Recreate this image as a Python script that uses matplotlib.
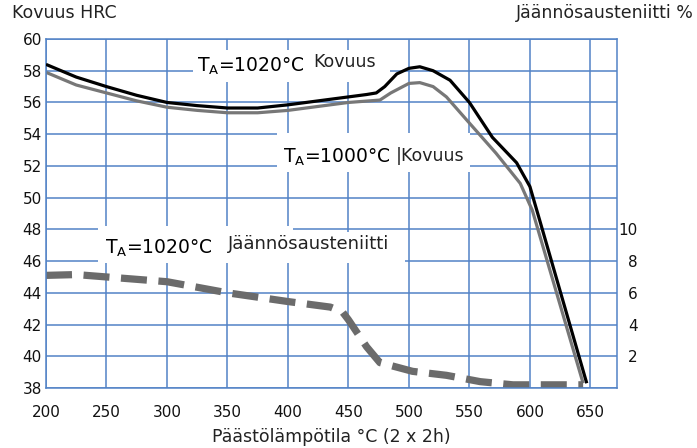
import numpy as np
import matplotlib
matplotlib.use("Agg")
import matplotlib.pyplot as plt
from matplotlib.patches import Rectangle

plt.rcParams['font.family'] = ['DejaVu Sans']

# hardness, T_A = 1020 C
t_1020 = [200, 225, 250, 275, 300, 325, 350, 375, 400, 425, 450, 465, 473, 480, 490, 500, 509, 520, 534, 550, 569, 589, 600, 608, 647]
hrc_1020 = [58.4, 57.6, 57.0, 56.45, 56.0, 55.8, 55.65, 55.65, 55.85, 56.1, 56.35, 56.5, 56.6, 57.0, 57.8, 58.15, 58.25, 58.0, 57.4, 56.0, 53.8, 52.2, 50.7, 48.6, 38.3]

# hardness, T_A = 1000 C
t_1000 = [200, 225, 250, 275, 300, 325, 350, 375, 400, 425, 450, 476, 485, 500, 509, 520, 531, 550, 572, 592, 602, 644]
hrc_1000 = [57.9, 57.1, 56.6, 56.1, 55.7, 55.5, 55.35, 55.35, 55.5, 55.75, 56.0, 56.15, 56.6, 57.2, 57.25, 57.0, 56.35, 54.7, 52.8, 50.9, 49.2, 38.3]

# retained austenite %, T_A = 1020 C
t_aust = [200, 225, 250, 300, 350, 400, 435, 445, 450, 465, 476, 503, 531, 559, 586, 614, 644]
aust = [7.1, 7.15, 7.0, 6.7, 6.0, 5.45, 5.1, 4.8, 4.3, 2.6, 1.6, 1.05, 0.8, 0.4, 0.2, 0.2, 0.2]

x_ticks = [200, 250, 300, 350, 400, 450, 500, 550, 600, 650]
y_ticks = [38, 40, 42, 44, 46, 48, 50, 52, 54, 56, 58, 60]
aust_ticks = [2, 4, 6, 8, 10]
HRC0 = 38  # austenite 0 % sits on 38 HRC

grid_c = '#5283c6'

fig = plt.figure(figsize=(6.97, 4.48), dpi=100)
ax = fig.add_axes([46/697, 1-388/448, (617-46)/697, (388-39)/448])
ax.set_xlim(200, 672)
ax.set_ylim(38, 60)
ax.set_xticks(x_ticks)
ax.set_yticks(y_ticks)
ax.grid(True, color=grid_c, lw=1.1, zorder=0)
ax.set_axisbelow(True)
for s in ax.spines.values():
    s.set_color(grid_c)
    s.set_linewidth(1.1)
ax.tick_params(axis='both', length=0, labelsize=11, labelcolor='#111111')
ax.tick_params(axis='y', pad=3)
ax.tick_params(axis='x', pad=12)

# pixel coords -> data
to_x = lambda p: 200 + (p - 46) / 1.2105
to_y = lambda p: 60 - (p - 39) / 15.864

# white label boxes (cover grid)
def box(x0, y0, x1, y1):
    ax.add_patch(Rectangle((to_x(x0), to_y(y1)), to_x(x1) - to_x(x0), to_y(y0) - to_y(y1),
                           facecolor='white', edgecolor='none', zorder=1))

box(193, 50, 390, 82)
box(277, 133, 470, 172)
box(98, 226, 293, 263)
box(293, 232, 405, 263)

ax.plot(t_1020, hrc_1020, color='black', lw=2.3, zorder=3, solid_capstyle='butt')
ax.plot(t_1000, hrc_1000, color='#777777', lw=2.3, zorder=2, solid_capstyle='butt')
ax.plot(t_aust, [HRC0 + a for a in aust], color='#6b6b6b', lw=5.2, zorder=2,
        dashes=(3.6, 1.6))

ax2 = ax.twinx()
ax2.set_ylim(0, 22)
ax2.set_yticks(aust_ticks)
ax2.tick_params(axis='y', length=0, labelsize=11, labelcolor='#111111', pad=15)
for lab in ax2.get_yticklabels():
    lab.set_horizontalalignment('right')
for s in ax2.spines.values():
    s.set_visible(False)

ta = r'T$_\mathregular{A}$=1020°C'
ax.text(to_x(197), to_y(66), ta, fontsize=13.5, va='center', ha='left', zorder=4)
ax.text(to_x(313), to_y(62), 'Kovuus', fontsize=12.5, va='center', ha='left', color='#222222', zorder=4)
ax.text(to_x(283), to_y(157), r'T$_\mathregular{A}$=1000°C', fontsize=13.5, va='center', ha='left', zorder=4)
ax.text(to_x(396), to_y(156), '|Kovuus', fontsize=12.5, va='center', ha='left', color='#222222', zorder=4)
ax.text(to_x(105), to_y(248), ta, fontsize=13.5, va='center', ha='left', zorder=4)
ax.text(to_x(228), to_y(244), 'Jäännösausteniitti', fontsize=13, va='center', ha='left', color='#222222', zorder=4)

fig.text(12/697, 1-13/448, 'Kovuus HRC', fontsize=12.5, va='center', ha='left', color='#222222')
fig.text(694/697, 1-13/448, 'Jäännösausteniitti %', fontsize=12.5, va='center', ha='right', color='#222222')
fig.text(331/697, 1-437/448, 'Päästölämpötila °C (2 x 2h)', fontsize=12.5, va='center', ha='center', color='#222222')

fig.savefig('out.png', dpi=100)
